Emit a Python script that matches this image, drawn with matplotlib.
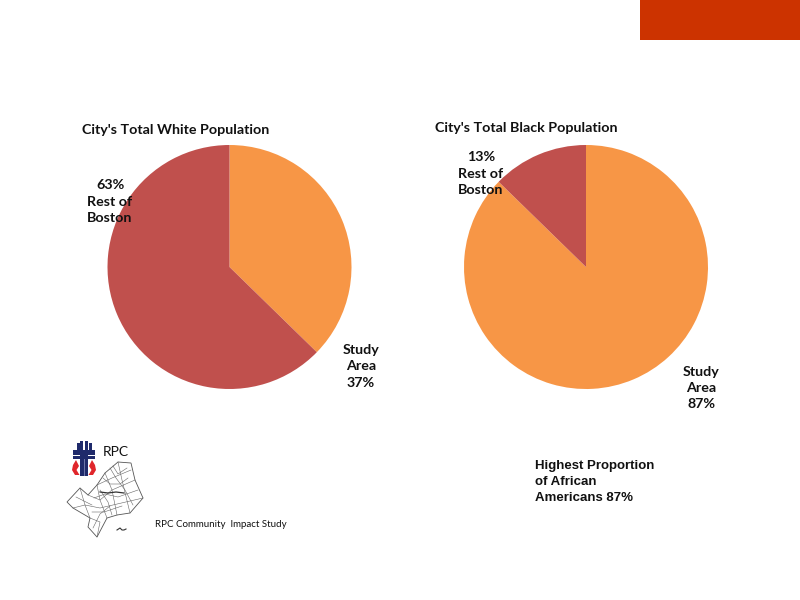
import matplotlib
matplotlib.use("Agg")
import matplotlib.pyplot as plt
from matplotlib.patches import Rectangle, Polygon
from matplotlib.lines import Line2D

plt.rcParams['font.family'] = ['Lato', 'DejaVu Sans']

white_values = [37.3, 62.7]
black_values = [87.3, 12.7]
colors = ['#F79646', '#C0504D']
W, H = 800, 600

fig = plt.figure(figsize=(8, 6), dpi=100, facecolor='white')

def place(cx, cy, r):
    return fig.add_axes([(cx - r) / W, 1 - (cy + r) / H, 2 * r / W, 2 * r / H])

for vals, cx in ((white_values, 229.5), (black_values, 586)):
    ax = place(cx, 267, 122)
    ax.pie(vals, colors=colors, startangle=90, counterclock=False, radius=1,
           wedgeprops={'linewidth': 0})
    ax.set_xlim(-1, 1)
    ax.set_ylim(-1, 1)

# Full-figure pixel overlay for the decorative slide elements
ov = fig.add_axes([0, 0, 1, 1], facecolor='none')
ov.set_xlim(0, W)
ov.set_ylim(H, 0)
ov.axis('off')
ov.add_patch(Rectangle((640, 0), 160, 40, color='#CC3300', lw=0))

# Logo: cross and flames
navy = '#1F2A6B'
for x, y0, w, h in ((80, 441, 3, 9), (85, 441, 3, 9), (77, 443, 2.5, 7), (89, 443, 2.5, 7)):
    ov.add_patch(Rectangle((x, y0), w, h, color=navy, lw=0))
ov.add_patch(Rectangle((73, 450), 22, 5, color=navy, lw=0))
ov.add_patch(Rectangle((73, 456), 22, 3, color=navy, lw=0))
ov.add_patch(Rectangle((80, 450), 8, 26, color=navy, lw=0))
ov.add_patch(Rectangle((83.5, 459), 1, 17, color='#6C74A8', lw=0))
flames = ([(76, 460), (79, 466), (76.5, 470), (79.5, 475), (75, 475), (72, 470), (73, 465)],
          [(92, 460), (89, 466), (91.5, 470), (88.5, 475), (93, 475), (96, 470), (95, 465)])
for pts in flames:
    ov.add_patch(Polygon(pts, closed=True, color='#E0262B', lw=0))

# Logo: map outline and interior boundaries
outline = [(67, 502), (80, 488), (88, 495), (97, 485), (105, 473), (118, 462), (131, 463),
           (135, 480), (143, 498), (130, 513), (117, 515), (107, 518), (97, 537),
           (88, 527), (90, 518), (73, 508)]
ov.add_patch(Polygon(outline, closed=True, facecolor='white', edgecolor='#555555', lw=0.6))
inner = [[(80, 488), (85, 505), (90, 518)], [(97, 485), (100, 500), (107, 518)],
         [(105, 473), (112, 490), (117, 515)], [(118, 462), (122, 480), (130, 513)],
         [(88, 495), (100, 500), (112, 490), (135, 480)],
         [(73, 508), (85, 505), (100, 508), (143, 498)],
         [(97, 485), (112, 478), (131, 470)], [(90, 518), (100, 522), (97, 537)],
         [(110, 468), (116, 478), (125, 490), (133, 505)], [(100, 490), (108, 502), (112, 515)],
         [(113, 466), (118, 474), (127, 468)], [(103, 478), (110, 484), (120, 484), (128, 478)],
         [(94, 498), (105, 494), (118, 497), (138, 490)], [(92, 512), (104, 512), (122, 506)],
         [(93, 528), (100, 514), (110, 506)], [(76, 497), (82, 500), (92, 505)]]
for seg in inner:
    xs, ys = zip(*seg)
    ov.add_line(Line2D(xs, ys, color='#666666', lw=0.4))
ov.add_line(Line2D((100, 108, 116, 124), (492, 493, 492, 493), color='#333333', lw=0.9))
ov.add_line(Line2D((117, 120, 122, 124, 126), (530, 528, 530, 530, 529), color='#333333', lw=0.8))

def t(x, y, s, size=10.3, weight='bold', ha='center', family=None, color='#111111', ls=1.42):
    kw = {'family': family} if family else {}
    fig.text(x / W, 1 - y / H, s, fontsize=size, fontweight=weight, ha=ha, va='center',
             color=color, linespacing=ls, **kw)

t(176, 130, "City's Total White Population")
t(526, 128, "City's Total Black Population")
t(110, 201.5, "63%\nRest of\nBoston")
t(361, 366.5, "Study\nArea\n37%")
t(481, 173.5, "13%\nRest of\nBoston")
t(701, 388, "Study\nArea\n87%")
t(535, 482, "Highest Proportion\nof African\nAmericans 87%", size=9.5, ha='left',
  family='Liberation Sans', ls=1.42)
t(155, 524.5, "RPC Community  Impact Study", size=7, weight='normal', ha='left')
t(103, 452, "RPC", size=10, weight='normal', ha='left', color='#111111')

fig.savefig('out.png', dpi=100)
